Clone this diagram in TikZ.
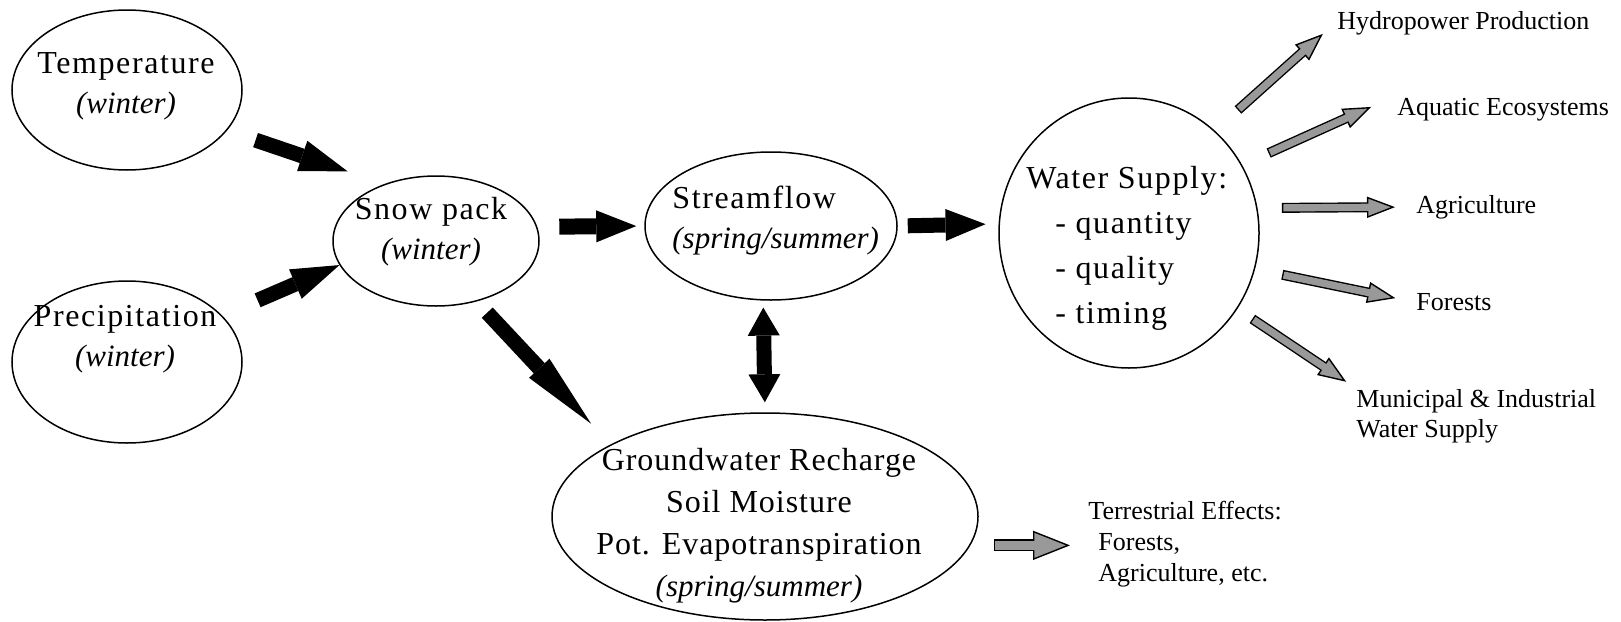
\documentclass[tikz,border=0pt]{standalone}
\usepackage{fontspec}
\setmainfont{Liberation Serif}
\newfontfamily\ellfont[LetterSpace=5]{Liberation Serif}
\newfontfamily\gwfont[LetterSpace=3]{Liberation Serif}
\usetikzlibrary{arrows.meta,shapes.geometric}
\definecolor{arrowgray}{gray}{0.6}
\newcommand{\season}[1]{{\rmfamily\itshape\fontsize{15.5}{20}\selectfont #1}}
\tikzset{
  ell/.style={draw, ellipse, line width=0.75pt, inner sep=0pt},
  elltext/.style={inner sep=0pt, align=center, font=\ellfont\fontsize{16}{20}\selectfont},
  lab/.style={inner sep=1pt, anchor=west, font=\fontsize{13}{15}\selectfont},
  blkarrow/.style={line width=7.5pt, -{Triangle[length=20pt,width=16pt,line width=0pt]}},
  grayarrow/.style 2 args={draw=black, line width=5pt, shorten <=#1, shorten >=#2,
    -{Triangle[length=14pt,width=10.5pt,fill=arrowgray,line width=0.7pt]},
    postaction={draw=arrowgray, line width=3.6pt, -, shorten <=#1+0.7pt, shorten >=#2+13pt}},
  graybig/.style 2 args={draw=black, line width=6pt, shorten <=#1, shorten >=#2,
    -{Triangle[length=18.5pt,width=14.5pt,fill=arrowgray,line width=0.7pt]},
    postaction={draw=arrowgray, line width=4.6pt, -, shorten <=#1+0.7pt, shorten >=#2+17.5pt}}
}
\begin{document}
\begin{tikzpicture}[x=0.5pt, y=-0.5pt]
\useasboundingbox (0,0) rectangle (1621,621);

% ellipses
\node[ell, minimum width=115pt, minimum height=80pt] (temp) at (127,90) {};
\node[ell, minimum width=115pt, minimum height=81pt] (precip) at (127,362) {};
\node[ell, minimum width=103pt, minimum height=65pt] (snow) at (436,241) {};
\node[ell, minimum width=126pt, minimum height=74pt] (stream) at (771,226) {};
\node[ell, minimum width=130pt, minimum height=135pt] (water) at (1129,233) {};
\node[ell, minimum width=213pt, minimum height=103.5pt] (gw) at (765,516.5) {};

\node[elltext] (temptext) at (126,86) {Temperature\\\season{(winter)}};
\node[elltext] (preciptext) at (125,339) {Precipitation\\\season{(winter)}};
\node[elltext] (snowtext) at (431,232) {Snow pack\\\season{(winter)}};
\node[elltext, anchor=west, align=left] (streamtext) at (672,221) {Streamflow\\\season{(spring/summer)}};
\node[elltext, anchor=west, align=left, font=\ellfont\fontsize{16}{22.5}\selectfont] (watertext) at (1026,248)
  {Water Supply:\\\hspace*{14.5pt}- quantity\\\hspace*{14.5pt}- quality\\\hspace*{14.5pt}- timing};
\node[elltext, font=\gwfont\fontsize{16}{21}\selectfont] (gwtext) at (759,526)
  {Groundwater Recharge\\Soil Moisture\\Pot. Evapotranspiration\\\season{(spring/summer)}};

% labels
\node[lab] (hydro) at (1335,23) {Hydropower Production};
\node[lab] (aquatic) at (1395,110) {Aquatic Ecosystems};
\node[lab] (agri) at (1414,207) {Agriculture};
\node[lab] (forests) at (1414,302) {Forests};
\node[lab, anchor=north west, align=left] (muni) at (1354,387) {Municipal \& Industrial\\Water Supply};
\node[lab, anchor=north west, align=left, font=\fontsize{13}{15.5}\selectfont] (terr) at (1086,499)
  {Terrestrial Effects:\\\hspace*{5pt}Forests,\\\hspace*{5pt}Agriculture, etc.};

% black arrows
\draw[blkarrow, -{Triangle[length=24pt,width=16pt,line width=0pt]}, shorten <=15pt, shorten >=19.5pt] (temp.338.1) -- (snow.132.9);
\draw[blkarrow, -{Triangle[length=24pt,width=16pt,line width=0pt]}, shorten <=19.25pt, shorten >=0pt] (precip.26.8) -- (snow.194);
\draw[blkarrow, line width=8pt, shorten <=11pt, shorten >=4pt] (snow.8.5) -- (stream.180);
\draw[blkarrow, shorten <=5pt, shorten >=6.5pt] (stream.0) -- (water.176.9);
\draw[blkarrow, -{Triangle[length=38pt,width=14pt,line width=0pt]}, shorten <=7.65pt, shorten >=14.15pt] (snow.304.3) -- (gw.155.6);
\draw[blkarrow, {Triangle[length=14pt,width=16pt,line width=0pt]}-{Triangle[length=14pt,width=16pt,line width=0pt]}, shorten <=3.5pt, shorten >=5pt] (stream.264.6) -- (gw.90.55);

% gray arrows
\draw[grayarrow={15.5pt}{8.15pt}] (water.50.4) -- (hydro.west);
\draw[grayarrow={14.5pt}{13.1pt}] (water.31.96) -- (aquatic.north west);
\draw[grayarrow={12.2pt}{9.5pt}] (water.11.52) -- (agri.west);
\draw[grayarrow={13.9pt}{9.5pt}] (water.344.9) -- (forests.west);
\draw[grayarrow={9pt}{4.7pt}] (water.325.3) -- (muni.north west);
\draw[graybig={11.8pt}{8pt}] (gw.352.96) -- (gw.352.96 -| terr.west);
\end{tikzpicture}
\end{document}
